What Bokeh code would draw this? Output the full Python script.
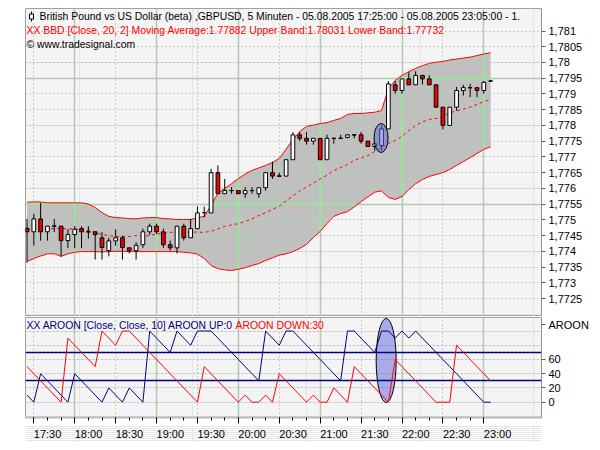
import numpy as np
import pandas as pd
from bokeh.plotting import figure
from bokeh.layouts import column
from bokeh.models import (Range1d, LinearAxis, DatetimeAxis, Grid, FixedTicker,
                          CustomJSTickFormatter, ColumnDataSource)
from bokeh.core.properties import value
from bokeh.embed import file_html
from bokeh.resources import INLINE

# ---------------- data ----------------
TITLE_TEXT = "British Pound vs US Dollar (beta) ,GBPUSD, 5 Minuten - 05.08.2005 17:25:00 - 05.08.2005 23:05:00 - 1."
COPYRIGHT = "\u00a9 www.tradesignal.com"
BB_PARAMS = "Close, 20, 2"
AROON_PARAMS = "Close, Close, 10"
AROON_NAME = "AROON"

TIMES = pd.date_range("2005-08-05 17:25", "2005-08-05 23:05", freq="5min")

OPEN = [1.77473, 1.77462, 1.77503, 1.77462, 1.77480, 1.77480, 1.77434, 1.77453, 1.77472, 1.77462,
        1.77462, 1.77443, 1.77402, 1.77433, 1.77443, 1.77411, 1.77402, 1.77421, 1.77462, 1.77480,
        1.77462, 1.77421, 1.77411, 1.77480, 1.77443, 1.77472, 1.77523, 1.77522, 1.77650, 1.77583,
        1.77593, 1.77593, 1.77583, 1.77593, 1.77583, 1.77602, 1.77650, 1.77639, 1.77639, 1.77691,
        1.77770, 1.77759, 1.77750, 1.77759, 1.77691, 1.77759, 1.77759, 1.77762, 1.77770, 1.77770,
        1.77750, 1.77733, 1.77736, 1.77789, 1.77929, 1.77911, 1.77948, 1.77929, 1.77959, 1.77948,
        1.77929, 1.77858, 1.77800, 1.77858, 1.77911, 1.77920, 1.77920, 1.77911, 1.77941]
HIGH = [1.77503, 1.77519, 1.77554, 1.77480, 1.77503, 1.77480, 1.77470, 1.77480, 1.77480, 1.77480,
        1.77462, 1.77461, 1.77443, 1.77470, 1.77450, 1.77411, 1.77429, 1.77472, 1.77488, 1.77488,
        1.77472, 1.77434, 1.77480, 1.77488, 1.77503, 1.77543, 1.77542, 1.77662, 1.77673, 1.77630,
        1.77604, 1.77593, 1.77604, 1.77604, 1.77602, 1.77650, 1.77685, 1.77650, 1.77691, 1.77779,
        1.77779, 1.77779, 1.77759, 1.77759, 1.77771, 1.77759, 1.77770, 1.77773, 1.77770, 1.77779,
        1.77750, 1.77742, 1.77800, 1.77941, 1.77941, 1.77948, 1.77969, 1.77972, 1.77959, 1.77959,
        1.77929, 1.77858, 1.77858, 1.77922, 1.77929, 1.77932, 1.77920, 1.77941, 1.77941]
LOW = [1.77364, 1.77418, 1.77434, 1.77434, 1.77461, 1.77383, 1.77410, 1.77410, 1.77410, 1.77440,
       1.77374, 1.77374, 1.77384, 1.77418, 1.77374, 1.77393, 1.77374, 1.77411, 1.77452, 1.77455,
       1.77411, 1.77402, 1.77393, 1.77434, 1.77443, 1.77470, 1.77508, 1.77522, 1.77583, 1.77583,
       1.77583, 1.77583, 1.77570, 1.77583, 1.77570, 1.77593, 1.77630, 1.77639, 1.77639, 1.77691,
       1.77750, 1.77739, 1.77739, 1.77691, 1.77691, 1.77742, 1.77759, 1.77759, 1.77759, 1.77742,
       1.77733, 1.77720, 1.77720, 1.77789, 1.77901, 1.77901, 1.77929, 1.77929, 1.77930, 1.77929,
       1.77858, 1.77787, 1.77800, 1.77847, 1.77895, 1.77890, 1.77890, 1.77901, 1.77941]
CLOSE = [1.77462, 1.77503, 1.77462, 1.77480, 1.77480, 1.77434, 1.77453, 1.77470, 1.77462, 1.77462,
         1.77453, 1.77412, 1.77433, 1.77443, 1.77412, 1.77402, 1.77419, 1.77462, 1.77480, 1.77462,
         1.77421, 1.77411, 1.77480, 1.77443, 1.77472, 1.77522, 1.77523, 1.77650, 1.77583, 1.77593,
         1.77593, 1.77583, 1.77593, 1.77593, 1.77602, 1.77650, 1.77639, 1.77639, 1.77691, 1.77770,
         1.77759, 1.77750, 1.77759, 1.77691, 1.77759, 1.77759, 1.77759, 1.77770, 1.77770, 1.77750,
         1.77733, 1.77742, 1.77789, 1.77932, 1.77911, 1.77948, 1.77929, 1.77959, 1.77948, 1.77929,
         1.77858, 1.77800, 1.77858, 1.77911, 1.77920, 1.77920, 1.77911, 1.77937, 1.77941]

BB_MID = [1.77469, 1.77469, 1.77471, 1.77471, 1.77472, 1.77472, 1.77471, 1.77471, 1.77469, 1.77466,
          1.77460, 1.77453, 1.77450, 1.77447, 1.77447, 1.77447, 1.77450, 1.77449, 1.77450, 1.77455,
          1.77457, 1.77460, 1.77461, 1.77461, 1.77461, 1.77461, 1.77460, 1.77464, 1.77471, 1.77479,
          1.77484, 1.77488, 1.77495, 1.77503, 1.77514, 1.77523, 1.77533, 1.77544, 1.77560, 1.77576,
          1.77592, 1.77604, 1.77617, 1.77630, 1.77642, 1.77657, 1.77666, 1.77676, 1.77689, 1.77697,
          1.77704, 1.77717, 1.77730, 1.77743, 1.77752, 1.77765, 1.77784, 1.77800, 1.77811, 1.77819,
          1.77822, 1.77828, 1.77840, 1.77846, 1.77852, 1.77858, 1.77867, 1.77876, 1.77882]
BB_UPPER = [1.77556, 1.77557, 1.77557, 1.77554, 1.77554, 1.77554, 1.77554, 1.77554, 1.77554, 1.77550,
            1.77539, 1.77523, 1.77511, 1.77507, 1.77506, 1.77504, 1.77503, 1.77506, 1.77507, 1.77507,
            1.77504, 1.77503, 1.77501, 1.77501, 1.77501, 1.77507, 1.77511, 1.77546, 1.77584, 1.77600,
            1.77615, 1.77631, 1.77646, 1.77657, 1.77665, 1.77673, 1.77682, 1.77695, 1.77724, 1.77755,
            1.77781, 1.77797, 1.77801, 1.77806, 1.77809, 1.77816, 1.77822, 1.77835, 1.77838, 1.77838,
            1.77840, 1.77842, 1.77847, 1.77917, 1.77943, 1.77959, 1.77971, 1.77981, 1.77990, 1.77997,
            1.78001, 1.78003, 1.78008, 1.78011, 1.78014, 1.78017, 1.78022, 1.78027, 1.78031]
BB_LOWER = [1.77368, 1.77377, 1.77385, 1.77392, 1.77392, 1.77384, 1.77392, 1.77397, 1.77399, 1.77399,
            1.77399, 1.77398, 1.77399, 1.77400, 1.77400, 1.77399, 1.77399, 1.77399, 1.77399, 1.77399,
            1.77399, 1.77399, 1.77399, 1.77397, 1.77395, 1.77391, 1.77377, 1.77355, 1.77345, 1.77341,
            1.77339, 1.77343, 1.77348, 1.77355, 1.77361, 1.77371, 1.77379, 1.77388, 1.77392, 1.77399,
            1.77409, 1.77422, 1.77444, 1.77463, 1.77488, 1.77511, 1.77520, 1.77526, 1.77541, 1.77558,
            1.77573, 1.77588, 1.77592, 1.77571, 1.77565, 1.77574, 1.77596, 1.77615, 1.77628, 1.77638,
            1.77644, 1.77650, 1.77660, 1.77673, 1.77685, 1.77698, 1.77711, 1.77724, 1.77732]

AROON_UP = [10, 0, 40, 30, 20, 10, 0, 40, 30, 20,
            10, 0, 20, 10, 0, 20, 10, 0, 100, 90,
            80, 70, 100, 90, 80, 100, 100, 100, 90, 80,
            70, 60, 50, 40, 30, 100, 90, 80, 100, 100,
            90, 80, 70, 60, 50, 40, 30, 100, 100, 90,
            80, 70, 100, 100, 90, 100, 90, 100, 90, 80,
            70, 60, 50, 40, 30, 20, 10, 0, 0]
AROON_DOWN = [50, 40, 30, 20, 10, 0, 90, 80, 70, 60,
              50, 100, 90, 80, 100, 100, 90, 80, 70, 60,
              50, 40, 30, 20, 10, 0, 50, 40, 30, 20,
              10, 0, 10, 0, 0, 10, 0, 40, 30, 20,
              10, 0, 10, 0, 0, 20, 10, 0, 50, 40,
              30, 20, 10, 0, 60, 50, 40, 30, 20, 10,
              0, 0, 0, 80, 70, 60, 50, 40, 30]
AROON_LEVELS = [70, 30]

TIME_TICK_LABELS = ["17:30", "18:00", "18:30", "19:00", "19:30", "20:00", "20:30",
                    "21:00", "21:30", "22:00", "22:30", "23:00"]
PRICE_TICKS = [1.7725, 1.773, 1.7735, 1.774, 1.7745, 1.775, 1.7755, 1.776, 1.7765,
               1.777, 1.7775, 1.778, 1.7785, 1.779, 1.7795, 1.78, 1.7805, 1.781]
PRICE_MAJOR_GRID = [1.7755, 1.7795]
AROON_TICKS = [0, 20, 40, 60]
AROON_GRID = [0, 20, 40, 60, 80, 100]
HIGHLIGHT_BAR = 52

# ---------------- styling / layout ----------------
FONT = "Liberation Sans"
HEAD_SIZE = "10.4px"
RED = "#f00000"
NAVY = "#000080"
BAND_FILL = "#c0c0c0"
PANEL_BG = "#f4f4f4"
GRID_SOLID = "#b4c8b4"
GRID_DOT = "#a0a0a0"
BAND_GRID = "#8cf08c"
HILITE = "#5f64e0"

LEFT, RIGHT = 25, 51
FRAME_W, MAIN_H, AROON_H, LABEL_H = 516, 308, 100, 17
MS_PER_PX = 44000.0
BAR_MS = 300000.0
BODY_MS = 3.7 * MS_PER_PX


def to_ms(ts):
    return np.asarray((pd.DatetimeIndex(ts) - pd.Timestamp("1970-01-01")) // pd.Timedelta(milliseconds=1), dtype=float)


t_ms = to_ms(TIMES)
X0 = t_ms[0] - 1.5 * MS_PER_PX
X1 = X0 + FRAME_W * MS_PER_PX
Y_TOP, Y_BOT = 1.781716, 1.771928
PPX = (Y_TOP - Y_BOT) / MAIN_H
A_TOP, A_BOT = 119.0, -21.5
APX = (A_TOP - A_BOT) / AROON_H

tick_ms = to_ms(pd.to_datetime(["2005-08-05 " + s for s in TIME_TICK_LABELS]))
hour_ms = [t for t, s in zip(tick_ms, TIME_TICK_LABELS) if s.endswith(":00")]
half_ms = [t for t, s in zip(tick_ms, TIME_TICK_LABELS) if s.endswith(":30")]
minor_ms = list(np.arange(tick_ms[0], tick_ms[-1] + 1, 600000.0))

xr = Range1d(X0, X1)


def tx(px):
    return X0 + px * MS_PER_PX


def ty(px):
    return Y_TOP - px * PPX


def make_fig(frame_h, y_range, top_border, bottom_border, bg=PANEL_BG, outline="#a0a0a0"):
    return figure(frame_width=FRAME_W, frame_height=frame_h, x_range=xr, y_range=y_range,
                  x_axis_location=None, y_axis_location=None, toolbar_location=None,
                  output_backend="svg", min_border_left=LEFT, min_border_right=RIGHT,
                  min_border_top=top_border, min_border_bottom=bottom_border,
                  background_fill_color=bg, border_fill_color="white",
                  outline_line_color=outline)


def add_xgrid(p):
    p.add_layout(Grid(dimension=0, ticker=FixedTicker(ticks=hour_ms, minor_ticks=half_ms),
                      grid_line_color=GRID_SOLID, grid_line_width=1.5,
                      minor_grid_line_color=GRID_DOT, minor_grid_line_dash="1 3"))


def right_axis(ticks, formatter):
    return LinearAxis(ticker=FixedTicker(ticks=ticks), formatter=formatter,
                      axis_line_color="#808080", axis_line_dash="1 1",
                      major_tick_line_color="#606060", major_tick_out=4, major_tick_in=0,
                      minor_tick_line_color=None, major_label_text_font=FONT,
                      major_label_text_font_size="11px", major_label_text_color="black",
                      major_label_standoff=3)


# ---------------- main panel ----------------
p1 = make_fig(MAIN_H, Range1d(Y_BOT, Y_TOP), 8, 0)
add_xgrid(p1)
p1.add_layout(Grid(dimension=1, ticker=FixedTicker(ticks=PRICE_MAJOR_GRID, minor_ticks=PRICE_TICKS),
                   grid_line_color=GRID_SOLID, grid_line_width=1.5,
                   minor_grid_line_color=GRID_DOT, minor_grid_line_dash="1 3"))

p1.varea(x=t_ms, y1=BB_LOWER, y2=BB_UPPER, fill_color=BAND_FILL)

# grid lines showing through the band
bar_idx = np.arange(len(TIMES))
fine = np.linspace(0, len(TIMES) - 1, 4000)
fine_t = np.interp(fine, bar_idx, t_ms)
fine_u = np.interp(fine, bar_idx, BB_UPPER)
fine_l = np.interp(fine, bar_idx, BB_LOWER)


def runs_inside(level):
    m = (fine_l < level) & (level < fine_u)
    xs, ys = [], []
    i = 0
    while i < len(m):
        if m[i]:
            j = i
            while j + 1 < len(m) and m[j + 1]:
                j += 1
            xs.append([fine_t[i], fine_t[j]])
            ys.append([level, level])
            i = j + 1
        else:
            i += 1
    return xs, ys


def vseg(ts):
    xs, ys = [], []
    for t in ts:
        xs.append([t, t])
        ys.append([np.interp(t, t_ms, BB_LOWER), np.interp(t, t_ms, BB_UPPER)])
    return xs, ys


sx, sy = vseg(hour_ms)
for lvl in PRICE_MAJOR_GRID:
    a, b = runs_inside(lvl)
    sx += a
    sy += b
dx, dy = vseg(half_ms)
for lvl in PRICE_TICKS:
    if lvl in PRICE_MAJOR_GRID:
        continue
    a, b = runs_inside(lvl)
    dx += a
    dy += b
p1.multi_line(xs=sx, ys=sy, line_color=BAND_GRID, line_width=1.5)
p1.multi_line(xs=dx, ys=dy, line_color=BAND_GRID, line_width=1, line_dash="1 3")

p1.line(t_ms, BB_UPPER, line_color="#ff0000", line_width=1)
p1.line(t_ms, BB_LOWER, line_color="#ff0000", line_width=1)
p1.line(t_ms, BB_MID, line_color="#ff0000", line_width=1, line_dash="3 3")

o = np.array(OPEN)
c = np.array(CLOSE)
up = c >= o
src = ColumnDataSource(dict(t=t_ms, top=np.maximum(o, c), bottom=np.minimum(o, c),
                            high=HIGH, low=LOW,
                            fill=["white" if u else RED for u in up]))
p1.segment(x0="t", y0="low", x1="t", y1="high", source=src, line_color="black", line_width=1)
p1.vbar(x="t", width=BODY_MS, top="top", bottom="bottom", fill_color="fill",
        line_color="black", line_width=1, source=src)
doji = o == c
p1.segment(x0=t_ms[doji] - BODY_MS / 2, x1=t_ms[doji] + BODY_MS / 2,
           y0=o[doji], y1=o[doji], line_color="black", line_width=1)

hb = HIGHLIGHT_BAR
p1.ellipse(x=[t_ms[hb] - 0.07 * BAR_MS], y=[(HIGH[hb] + LOW[hb]) / 2],
           width=14 * MS_PER_PX, height=29 * PPX,
           fill_color=HILITE, fill_alpha=0.5, line_color="black", line_width=1)

# small candle icon in front of the symbol line
p1.segment(x0=[tx(6)], x1=[tx(6)], y0=[ty(3)], y1=[ty(13)], line_color="black", line_width=1)
p1.rect(x=[tx(6)], y=[ty(8)], width=4 * MS_PER_PX, height=5 * PPX,
        fill_color="white", line_color="black", line_width=1)

bb_text = ("XX BBD [%s] Moving Average:%.5f Upper Band:%.5f Lower Band:%.5f"
           % (BB_PARAMS, BB_MID[-1], BB_UPPER[-1], BB_LOWER[-1]))
for px_x, px_y, txt, col in [(14, 8, TITLE_TEXT, "black"),
                             (1, 22, bb_text, "#ff0000"),
                             (1, 36, COPYRIGHT, "black")]:
    p1.text(x=[tx(px_x)], y=[ty(px_y)], text=[txt], text_font=value(FONT),
            text_font_size=HEAD_SIZE, text_color=col, text_baseline="middle", text_align="left")

p1.add_layout(right_axis(PRICE_TICKS, CustomJSTickFormatter(
    code="return tick.toFixed(4).replace(/0+$/, '').replace('.', ',');")), "right")

# ---------------- AROON panel ----------------
p2 = make_fig(AROON_H, Range1d(A_BOT, A_TOP), 1, 8)
add_xgrid(p2)
p2.add_layout(Grid(dimension=1, ticker=FixedTicker(ticks=[], minor_ticks=AROON_GRID),
                   grid_line_color=None, minor_grid_line_color=GRID_DOT,
                   minor_grid_line_dash="1 3"))

p2.ellipse(x=[t_ms[hb] + 0.68 * BAR_MS], y=[58.6], width=20 * MS_PER_PX, height=84 * APX,
           fill_color=HILITE, fill_alpha=0.5, line_color="black", line_width=1)
p2.hspan(y=AROON_LEVELS, line_color=NAVY, line_width=1.5)
p2.line(t_ms, AROON_UP, line_color=NAVY, line_width=1)
p2.line(t_ms, AROON_DOWN, line_color="#ff0000", line_width=1)

y_head = A_TOP - 8 * APX
p2.text(x=[tx(1)], y=[y_head],
        text=["XX %s [%s] %s UP:%d" % (AROON_NAME, AROON_PARAMS, AROON_NAME, AROON_UP[-1])],
        text_font=value(FONT), text_font_size=HEAD_SIZE, text_color=NAVY,
        text_baseline="middle", text_align="left")
p2.text(x=[tx(210)], y=[y_head], text=["%s DOWN:%d" % (AROON_NAME, AROON_DOWN[-1])],
        text_font=value(FONT), text_font_size=HEAD_SIZE, text_color="#ff0000",
        text_baseline="middle", text_align="left")

# right axis: value ticks plus the panel name at the top of the panel
name_tick = A_TOP - 7 * APX
p2.add_layout(right_axis(AROON_TICKS + [name_tick], CustomJSTickFormatter(
    args=dict(lim=100, name=AROON_NAME),
    code="return tick > lim ? name : String(Math.round(tick));")), "right")

xa = DatetimeAxis(ticker=FixedTicker(ticks=list(tick_ms), minor_ticks=minor_ms),
                  formatter=CustomJSTickFormatter(code="return '';"),
                  axis_line_color="#b0c0b0", axis_line_width=2,
                  major_tick_out=6, major_tick_in=0, minor_tick_out=3, minor_tick_in=0,
                  major_tick_line_color="black", minor_tick_line_color="black",
                  major_label_text_font_size="0px", major_label_standoff=0)
p2.add_layout(xa, "below")

# ---------------- time labels (left-aligned at their ticks) ----------------
p3 = make_fig(LABEL_H, Range1d(0, LABEL_H), 0, 0, bg="white", outline=None)
p3.text(x=list(tick_ms), y=[LABEL_H - 8] * len(tick_ms), text=TIME_TICK_LABELS,
        text_font=value(FONT), text_font_size="11px", text_color="black",
        text_baseline="middle", text_align="left")

layout = column(p1, p2, p3, spacing=0)
open("out.html", "w").write(file_html(layout, INLINE, "GBPUSD"))
